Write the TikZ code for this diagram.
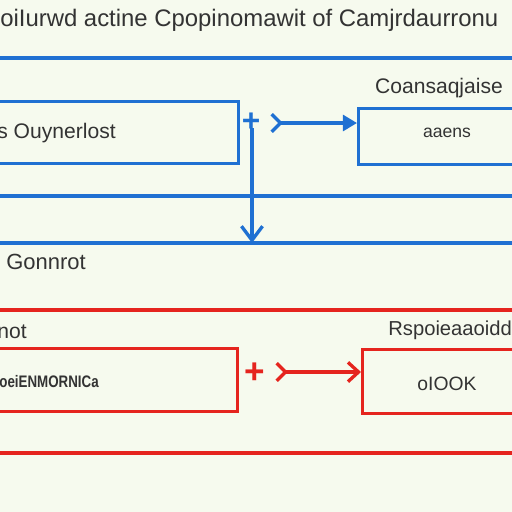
\documentclass[tikz,border=0pt]{standalone}
\usepackage{fontspec}
\setmainfont{Liberation Sans}
\newfontfamily\narrowsans[FakeStretch=0.8]{Liberation Sans}
\usepackage{tikz}
\usetikzlibrary{arrows.meta}
\definecolor{paper}{HTML}{F6FAEE}
\definecolor{diagblue}{HTML}{1F70D2}
\definecolor{diagred}{HTML}{E5241E}
\definecolor{ink}{HTML}{333333}

\begin{document}
\begin{tikzpicture}[x=0.02cm, y=-0.02cm, every node/.style={text=ink, inner sep=0pt},
	blk/.style={draw, line width=1.9pt, minimum height=1.24cm, anchor=north west},
	rule/.style={line width=1.8pt}]
	\useasboundingbox[fill=paper] (0,0) rectangle (512,512);
	\node[anchor=west, font=\fontsize{13.6}{17}\selectfont] (title) at (0,20) {oiIurwd actine Cpopinomawit of Camjrdaurronu};
	% blue half
	\foreach \y in {58,196,243} {\draw[rule, diagblue] (-5,\y) -- (517,\y);}
	\node[font=\fontsize{12}{14}\selectfont] (conslbl) at (439,88) {Coansaqjaise};
	\node[blk, diagblue, minimum width=4.94cm] (outbox) at (-10,100) {};
	\node[anchor=west, font=\fontsize{12}{14}\selectfont] (outlbl) at (-3,133) {s Ouynerlost};
	\node[blk, diagblue, minimum width=3.46cm, minimum height=1.12cm] (consbox) at (357,107) {};
	\node[font=\fontsize{10}{12}\selectfont] (conslbl2) at (447,133) {aaens};
	\node[text=diagblue, font=\fontsize{18}{18}\selectfont\bfseries] (plusB) at (251,122) {+};
	\coordinate (downB) at (252,243);
	\draw[diagblue, line width=1.9pt, -{Straight Barb[length=8pt, width=12pt]}] (252,128) -- (downB);
	\draw[diagblue, line width=1.9pt, {Straight Barb[reversed, length=5pt, width=10pt]}-{Triangle[length=8pt, width=9pt]}] (270,123) -- (270,123 -| consbox.west);
	\node[anchor=west, font=\fontsize{12.5}{14}\selectfont] (ctrl) at (6,262) {Gonnrot};
	% red half
	\foreach \y in {310,453} {\draw[rule, diagred] (-5,\y) -- (517,\y);}
	\node[anchor=west, font=\fontsize{12}{14}\selectfont] (notlbl) at (-3,332) {not};
	\node[anchor=west, font=\fontsize{11.5}{14}\selectfont] (resplbl) at (388,330) {Rspoieaaoidd};
	\node[blk, diagred, minimum width=4.92cm, minimum height=1.26cm] (inbox) at (-10,347) {};
	\node[anchor=west, font=\narrowsans\fontsize{9.5}{11}\selectfont\bfseries] (inlbl) at (-1,382) {oeiENMORNICa};
	\node[blk, diagred, minimum width=3.38cm, minimum height=1.28cm] (respbox) at (361,348) {};
	\node[font=\fontsize{11}{13}\selectfont] (resplbl2) at (447,384) {oIOOK};
	\node[text=diagred, font=\fontsize{20}{20}\selectfont\bfseries] (plusR) at (255,373) {+};
	\draw[diagred, line width=1.9pt, {Straight Barb[reversed, length=5pt, width=10pt]}-{Straight Barb[length=6pt, width=11pt]}] (275,372) -- (275,372 -| respbox.west);
\end{tikzpicture}
\end{document}
